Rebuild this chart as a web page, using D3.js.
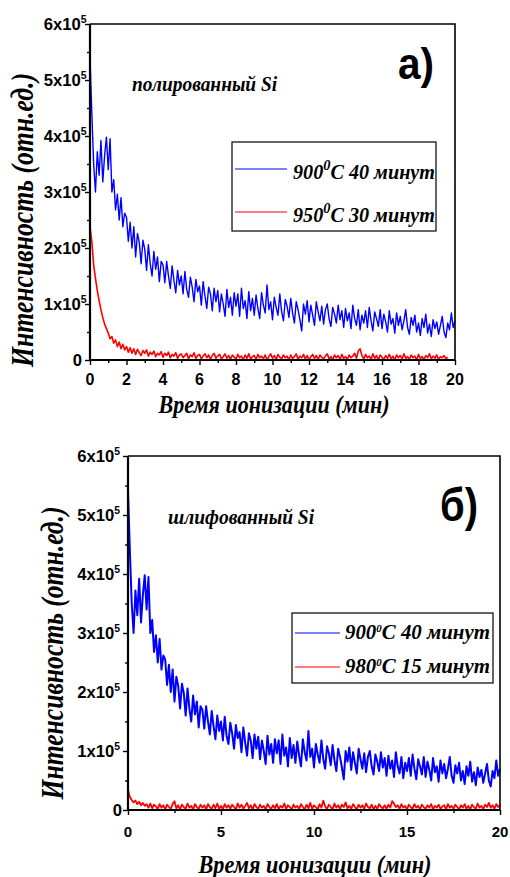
<!DOCTYPE html>
<html>
<head>
<meta charset="utf-8">
<script src="https://cdn.jsdelivr.net/npm/d3@7"></script>
<style>
  body { margin: 0; background: #fff; }
  svg { display: block; }
  .serif { font-family: "Liberation Serif", "Times New Roman", serif; font-weight: 700; font-style: italic; }
  .sans { font-family: "Liberation Sans", Arial, sans-serif; font-weight: 700; }
</style>
</head>
<body>
<script>
"use strict";
(function () {
  // minutes between two samples of every series
  const timeStep = 0.1;

  // intensity, thousands of counts
  const blue900 = [
    540, 440, 350, 300, 372, 330, 392, 318, 365, 398,
    340, 395, 300, 322, 268, 296, 250, 290, 238, 262,
    255, 212, 246, 200, 238, 184, 226, 210, 172, 214,
    198, 160, 206, 172, 150, 194, 162, 184, 140, 176,
    170, 138, 176, 150, 128, 168, 142, 120, 160, 134,
    150, 118, 158, 126, 112, 148, 130, 104, 144, 122,
    132, 98, 140, 114, 92, 130, 118, 88, 128, 104,
    124, 86, 118, 100, 78, 126, 94, 112, 80, 120,
    96, 118, 78, 128, 92, 106, 74, 122, 88, 110,
    80, 116, 92, 74, 120, 98, 84, 134, 90, 104,
    72, 112, 94, 80, 118, 86, 70, 108, 96, 76,
    110, 84, 66, 104, 90, 72, 52, 100, 82, 106,
    68, 98, 80, 62, 104, 86, 70, 96, 64, 90,
    100, 74, 60, 94, 82, 66, 98, 72, 88, 58,
    92, 70, 84, 56, 98, 74, 62, 90, 54, 80,
    66, 88, 58, 94, 70, 52, 86, 74, 60, 90,
    56, 82, 68, 50, 88, 64, 74, 48, 84, 62,
    78, 54, 70, 90, 58, 46, 76, 62, 80, 50,
    66, 44, 74, 58, 82, 48, 64, 42, 72, 56,
    68, 46, 62, 78, 50, 40, 66, 54, 84, 58,
    70
  ];

  const red950 = [
    238, 212, 170, 146, 124, 106, 90, 76, 64, 56,
    48, 38, 42, 30, 36, 24, 32, 20, 28, 18,
    24, 14, 22, 12, 20, 10, 19, 13, 8, 17,
    12, 18, 7, 14, 10, 16, 6, 12, 9, 15,
    5, 12, 8, 14, 4, 10, 7, 13, 3, 9,
    11, 4, 8, 12, 2, 9, 6, 13, 3, 8,
    10, 2, 7, 11, 4, 9, 1, 8, 12, 3,
    7, 10, 2, 6, 11, 3, 8, 1, 9, 5,
    2, 10, 4, 7, 0, 9, 3, 11, 2, 6,
    8, 1, 10, 4, 7, 2, 9, 0, 6, 11,
    3, 8, 1, 10, 5, 2, 9, 4, 7, 0,
    9, 3, 6, 11, 1, 7, 4, 10, 2, 8,
    0, 6, 10, 3, 8, 1, 9, 5, 2, 7,
    11, 2, 6, 0, 9, 4, 8, 1, 10, 3,
    6, 1, 9, 4, 7, 12, 3, 16, 20, 8,
    2, 10, 4, 7, 1, 11, 3, 8, 0, 9,
    5, 1, 8, 3, 10, 2, 7, 0, 9, 4,
    8, 2, 11, 3, 6, 1, 9, 4, 7, 0,
    10, 3, 6, 1, 8, 4, 11, 2, 7, 3,
    9, 1, 6, 4, 8, 2, 5
  ];

  const red980 = [
    35, 22, 17, 13, 16, 10, 14, 8, 12, 7,
    10, 4, 11, 3, 9, 6, 2, 10, 4, 8,
    1, 9, 5, 2, 10, 15, 3, 8, 1, 9,
    5, 2, 11, 4, 7, 1, 10, 5, 2, 9,
    4, 8, 1, 10, 5, 2, 9, 3, 11, 2,
    7, 1, 10, 4, 8, 2, 9, 5, 1, 11,
    4, 9, 2, 7, 12, 3, 8, 1, 10, 5,
    2, 9, 4, 7, 1, 10, 5, 2, 8, 3,
    10, 1, 7, 4, 11, 2, 8, 5, 1, 9,
    4, 7, 2, 10, 5, 1, 9, 3, 12, 2,
    8, 5, 1, 10, 4, 16, 6, 2, 9, 5,
    1, 11, 4, 8, 2, 9, 5, 13, 3, 7,
    2, 10, 5, 1, 9, 4, 8, 2, 11, 5,
    3, 9, 1, 7, 2, 10, 5, 3, 8, 2,
    9, 4, 15, 11, 5, 8, 2, 10, 4, 7,
    1, 9, 5, 2, 10, 4, 7, 1, 9, 5,
    2, 8, 4, 10, 1, 7, 4, 9, 2, 6,
    8, 1, 10, 4, 7, 2, 9, 5, 1, 8,
    4, 10, 2, 7, 1, 9, 5, 2, 11, 4,
    7, 2, 9, 5, 12, 4, 8, 2, 10, 5,
    9
  ];

  const yMajor = [0, 1e5, 2e5, 3e5, 4e5, 5e5, 6e5];
  const yMinor = [0.5e5, 1.5e5, 2.5e5, 3.5e5, 4.5e5, 5.5e5];
  const yTickText = ["0", "1x10", "2x10", "3x10", "4x10", "5x10", "6x10"];
  const xMajorA = [0, 2, 4, 6, 8, 10, 12, 14, 16, 18, 20];
  const xMinorA = [1, 3, 5, 7, 9, 11, 13, 15, 17, 19];
  const xMajorB = [0, 5, 10, 15, 20];
  const xMinorB = [2.5, 7.5, 12.5, 17.5];

  const yTitle = "Интенсивность (отн.ед.)";
  const xTitle = "Время ионизации (мин)";
  const legendA = [["900", "C 40 минут"], ["950", "C 30 минут"]];
  const legendB = [["900", "C 40 минут"], ["980", "C 15 минут"]];

  const svg = d3.select("body").append("svg")
      .attr("width", 510)
      .attr("height", 877);

  function toPoints(values) {
    return values.map((v, i) => [i * timeStep, v * 1000]);
  }

  // squeeze a text horizontally to a given width
  function fit(text, width) {
    const w = text.node().getBBox().width;
    text.attr("transform", text.attr("transform") + ` scale(${width / w},1)`);
  }

  function drawPanel(p) {
    const x = d3.scaleLinear().domain([0, 20]).range([p.left, p.right]);
    const y = d3.scaleLinear().domain([0, 6e5]).range([p.bottom, p.top]);
    const line = d3.line().x(d => x(d[0])).y(d => y(d[1]));

    p.series.forEach(s => {
      svg.append("path")
          .datum(toPoints(s.values))
          .attr("d", line)
          .attr("fill", "none")
          .attr("stroke", s.color)
          .attr("stroke-width", s.width)
          .attr("stroke-linejoin", "round");
    });

    // ticks
    const tickAxis = (axis, values, size, tr) => {
      svg.append("g")
          .attr("transform", tr)
          .call(axis.tickValues(values).tickSize(size).tickFormat(""))
          .call(g => g.select(".domain").remove())
          .selectAll("line").attr("stroke-width", 1.4);
    };
    tickAxis(d3.axisBottom(x), p.xMajor, 5, `translate(0,${p.bottom})`);
    tickAxis(d3.axisBottom(x), p.xMinor, 3, `translate(0,${p.bottom})`);
    tickAxis(d3.axisLeft(y), yMajor, 5, `translate(${p.left},0)`);
    tickAxis(d3.axisLeft(y), yMinor, 3, `translate(${p.left},0)`);

    // frame
    svg.append("path")
        .attr("d", `M${p.left},${p.top}H${p.right}V${p.bottom}`)
        .attr("fill", "none").attr("stroke", "#000").attr("stroke-width", 1.6);
    svg.append("path")
        .attr("d", `M${p.left},${p.top}V${p.bottom}H${p.right}`)
        .attr("fill", "none").attr("stroke", "#000").attr("stroke-width", 2.2);

    // tick labels
    p.xMajor.forEach(v => {
      svg.append("text")
          .attr("class", "sans")
          .attr("font-size", p.xTickSize)
          .attr("text-anchor", "middle")
          .attr("x", x(v))
          .attr("y", p.xTickY)
          .text(v);
    });
    yMajor.forEach((v, i) => {
      const gap = v === 0 ? p.zeroGap : p.expGap;
      const t = svg.append("text")
          .attr("class", "sans")
          .attr("font-size", 16)
          .attr("text-anchor", "end")
          .attr("transform", `translate(${p.left - gap},${y(v) + 5.5}) scale(1.04,1)`);
      t.append("tspan").text(yTickText[i]);
      if (v > 0) {
        t.append("tspan").attr("font-size", 10).attr("dy", -7).text("5");
      }
    });

    // axis titles
    const yt = svg.append("text")
        .attr("class", "serif")
        .attr("font-size", 32)
        .attr("text-anchor", "middle")
        .attr("transform", `translate(${p.yTitle[0]},${p.yTitle[1]}) rotate(-90)`)
        .text(yTitle);
    fit(yt, p.yTitle[2]);
    const xt = svg.append("text")
        .attr("class", "serif")
        .attr("font-size", 25)
        .attr("text-anchor", "middle")
        .attr("transform", `translate(${p.xTitle[0]},${p.xTitle[1]})`)
        .text(xTitle);
    fit(xt, p.xTitle[2]);

    // sample name and panel letter
    const nt = svg.append("text")
        .attr("class", "serif")
        .attr("font-size", 22)
        .attr("transform", `translate(${p.note[0]},${p.note[1]})`)
        .text(p.note[3]);
    fit(nt, p.note[2]);
    const lt = svg.append("text")
        .attr("class", "sans")
        .attr("font-size", p.letter[3])
        .attr("transform", `translate(${p.letter[0]},${p.letter[1]})`)
        .text(p.letter[4]);
    fit(lt, p.letter[2]);

    // legend
    const L = p.legend;
    svg.append("rect")
        .attr("x", L.x).attr("y", L.y).attr("width", L.w).attr("height", L.h)
        .attr("fill", "#fff").attr("stroke", "#000").attr("stroke-width", 1.2);
    L.labels.forEach((lab, i) => {
      svg.append("line")
          .attr("x1", L.x + 3).attr("x2", L.x + 3 + L.lineLen)
          .attr("y1", L.rows[i]).attr("y2", L.rows[i])
          .attr("stroke", p.series[i].color).attr("stroke-width", 1.2);
      const t = svg.append("text")
          .attr("class", "serif")
          .attr("font-size", 21)
          .attr("transform", `translate(${L.textX},${L.rows[i] + L.baseDy})`);
      t.append("tspan").text(lab[0]);
      t.append("tspan").attr("font-size", L.supSize).attr("dy", L.supDy).text("0");
      t.append("tspan").attr("dy", -L.supDy).text(lab[1]);
      fit(t, L.textW);
    });
  }

  drawPanel({
    left: 90, right: 455, top: 24, bottom: 360,
    series: [
      { values: blue900, color: "#0000ff", width: 1.4 },
      { values: red950, color: "#ff0000", width: 1.6 }
    ],
    xMajor: xMajorA, xMinor: xMinorA,
    xTickSize: 16, xTickY: 385,
    expGap: 3.5, zeroGap: 8,
    yTitle: [33, 220, 295],
    xTitle: [274, 413, 232],
    note: [132, 91, 146, "полированный Si"],
    letter: [398, 79, 36, 44, "а)"],
    legend: {
      x: 232, y: 142, w: 204, h: 89, lineLen: 52,
      rows: [169, 212], baseDy: 10, textX: 293, textW: 142,
      supSize: 15, supDy: -9,
      labels: legendA
    }
  });

  drawPanel({
    left: 128, right: 500, top: 456, bottom: 810,
    series: [
      { values: blue900, color: "#0000ff", width: 2 },
      { values: red980, color: "#ff0000", width: 1.8 }
    ],
    xMajor: xMajorB, xMinor: xMinorB,
    xTickSize: 15, xTickY: 837,
    expGap: 8, zeroGap: 6,
    yTitle: [63, 653, 294],
    xTitle: [315, 873, 234],
    note: [168, 524, 147, "шлифованный Si"],
    letter: [440, 521, 38, 46, "б)"],
    legend: {
      x: 292, y: 613, w: 201, h: 70, lineLen: 45,
      rows: [633, 667], baseDy: 6, textX: 345, textW: 145,
      supSize: 11, supDy: -7,
      labels: legendB
    }
  });
})();
</script>
</body>
</html>
